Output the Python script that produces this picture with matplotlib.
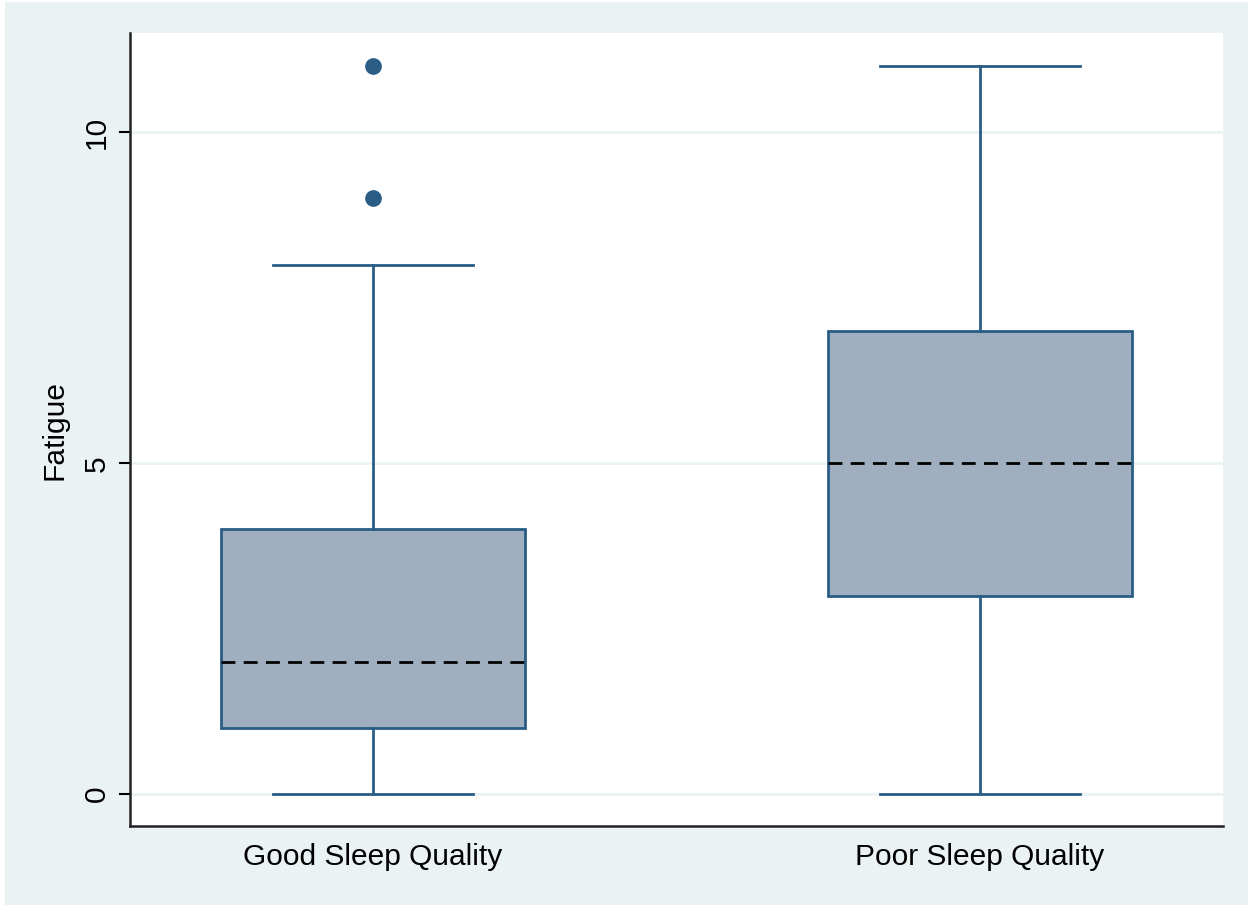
import matplotlib
matplotlib.use("Agg")
import matplotlib.pyplot as plt

categories = ["Good Sleep Quality", "Poor Sleep Quality"]
whislo = [0, 0]
q1 = [1, 3]
med = [2, 5]
q3 = [4, 7]
whishi = [8, 11]
fliers = [[9, 11], []]
yticks = [0, 5, 10]

plt.rcParams['font.family'] = ['Liberation Sans', 'DejaVu Sans']
bg = '#eaf2f3'
navy = '#2a5d86'

fig = plt.figure(figsize=(12.53, 9.07), dpi=100)
fig.patch.set_facecolor('white')
fig.add_artist(plt.Rectangle((5/1253, 2/907), 1 - 10/1253, 1 - 4/907,
                             transform=fig.transFigure, facecolor=bg, edgecolor='none', zorder=-10))
ax = fig.add_axes([130/1253, 1 - 826/907, (1223-130)/1253, (826-33)/907])
ax.set_facecolor('white')

stats = []
for i in range(2):
    stats.append(dict(label=categories[i], whislo=whislo[i], q1=q1[i], med=med[i],
                      q3=q3[i], whishi=whishi[i], fliers=fliers[i]))
ax.bxp(stats, positions=[1, 2], widths=0.5, patch_artist=True, capwidths=0.33,
       boxprops=dict(facecolor='#a0afbf', edgecolor=navy, linewidth=2),
       whiskerprops=dict(color=navy, linewidth=2),
       capprops=dict(color=navy, linewidth=2),
       medianprops=dict(color='black', linewidth=2, linestyle=(0, (5, 3))),
       flierprops=dict(marker='o', markerfacecolor=navy, markeredgecolor=navy, markersize=11),
       zorder=3)

ax.set_xlim(0.6, 2.4)
ax.set_ylim(-0.48, 11.5)
ax.set_yticks(yticks)
ax.set_yticklabels([str(t) for t in yticks], rotation=90, va='center', fontsize=21.5)
ax.tick_params(axis='y', length=8, width=1.5, pad=6)
ax.tick_params(axis='x', length=0, labelsize=21.5, pad=12)
ax.grid(axis='y', color=bg, linewidth=2, zorder=0)
ax.set_axisbelow(True)
for s in ['top', 'right']:
    ax.spines[s].set_visible(False)
for s in ['left', 'bottom']:
    ax.spines[s].set_linewidth(1.8)
    ax.spines[s].set_color('#222222')
ax.set_ylabel('Fatigue', fontsize=21.5, labelpad=10)

fig.savefig('out.png', dpi=100, facecolor=fig.get_facecolor())
